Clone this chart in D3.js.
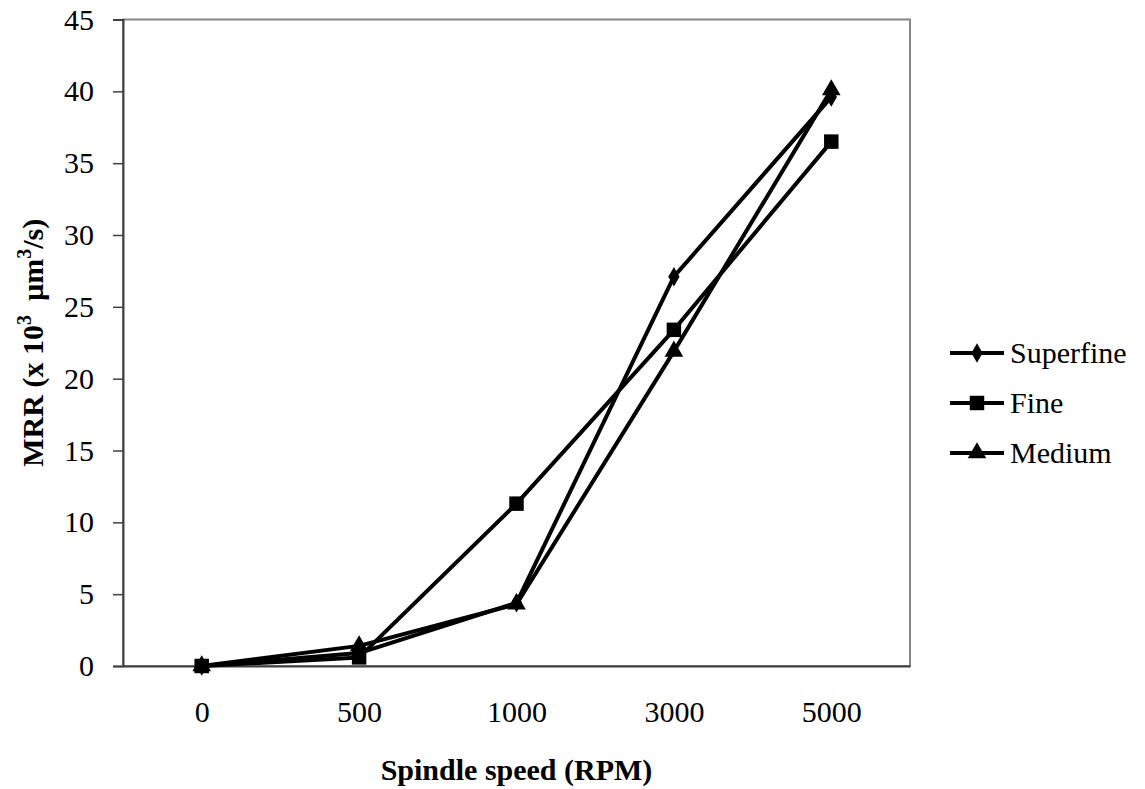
<!DOCTYPE html>
<html>
<head>
<meta charset="utf-8">
<script src="https://cdn.jsdelivr.net/npm/d3@7"></script>
<style>
  body { margin: 0; background: #fff; }
  text { font-family: "Liberation Serif", "Times New Roman", serif; fill: #000; }
</style>
</head>
<body>
<svg width="1145" height="789"></svg>
<script>
let speeds = ['0', '500', '1000', '3000', '5000'];
let superfine = [0, 0.9, 4.4, 27.1, 39.6];
let fine = [0, 0.6, 11.3, 23.4, 36.5];
let medium = [0, 1.4, 4.3, 21.9, 40.1];
let yTicks = [0, 5, 10, 15, 20, 25, 30, 35, 40, 45];

let series = [
  { name: 'Superfine', values: superfine, symbol: d3.symbolDiamond, size: 110 },
  { name: 'Fine', values: fine, symbol: d3.symbolSquare, size: 210 },
  { name: 'Medium', values: medium, symbol: d3.symbolTriangle, size: 150 }
];

let plotLeft = 123, plotRight = 910, plotTop = 19.5, plotBottom = 666;

let xScale = d3.scalePoint()
               .domain(speeds)
               .range([plotLeft, plotRight])
               .padding(0.5);

let yScale = d3.scaleLinear()
               .domain([0, 45])
               .range([plotBottom, plotTop]);

let svg = d3.select('svg');

// plot frame
svg.append('rect')
    .attr('x', plotLeft)
    .attr('y', plotTop)
    .attr('width', plotRight - plotLeft)
    .attr('height', plotBottom - plotTop)
    .attr('fill', 'none')
    .attr('stroke', '#868686')
    .attr('stroke-width', 2);

let yAxis = svg.append('g')
    .attr('transform', `translate(${plotLeft},0)`)
    .call(d3.axisLeft(yScale).tickValues(yTicks).tickSize(10).tickPadding(19));
yAxis.select('.domain').attr('stroke', '#404040').attr('stroke-width', 2);
yAxis.selectAll('line').attr('stroke', '#404040').attr('stroke-width', 1.5);
yAxis.selectAll('text').style('font-size', '30px').style('font-family', '"Liberation Serif", serif');

let xAxis = svg.append('g')
    .attr('transform', `translate(0,${plotBottom})`)
    .call(d3.axisBottom(xScale).tickSize(0).tickPadding(0));
xAxis.select('.domain').attr('stroke', '#404040').attr('stroke-width', 2);
xAxis.selectAll('text')
    .attr('y', 56)
    .attr('dy', 0)
    .style('font-size', '30px')
    .style('font-family', '"Liberation Serif", serif');

// axis titles
svg.append('text')
    .attr('x', (plotLeft + plotRight) / 2)
    .attr('y', 780)
    .attr('text-anchor', 'middle')
    .style('font-size', '30px')
    .style('font-weight', 'bold')
    .text('Spindle speed (RPM)');

let yTitle = svg.append('text')
    .attr('transform', `translate(43,${(plotTop + plotBottom) / 2}) rotate(-90)`)
    .attr('text-anchor', 'middle')
    .style('font-size', '30px')
    .style('font-weight', 'bold');
yTitle.append('tspan').text('MRR (x 10');
yTitle.append('tspan').attr('dy', -12).style('font-size', '20px').text('3');
yTitle.append('tspan').attr('dy', 12).attr('dx', 14).text('µm');
yTitle.append('tspan').attr('dy', -12).style('font-size', '20px').text('3');
yTitle.append('tspan').attr('dy', 12).text('/s)');

let line = d3.line()
    .x((d, i) => xScale(speeds[i]))
    .y(d => yScale(d));

series.forEach(s => {
  svg.append('path')
      .attr('d', line(s.values))
      .attr('fill', 'none')
      .attr('stroke', '#000')
      .attr('stroke-width', 4)
      .attr('stroke-linejoin', 'round');
  svg.append('g')
    .selectAll('path')
    .data(s.values)
    .enter()
    .append('path')
      .attr('transform', (d, i) => `translate(${xScale(speeds[i])},${yScale(d)})`)
      .attr('d', d3.symbol().type(s.symbol).size(s.size))
      .attr('fill', '#000');
});

// legend
let legend = svg.append('g')
    .selectAll('g')
    .data(series)
    .enter()
    .append('g')
    .attr('transform', (d, i) => `translate(950,${353 + i * 50})`);

legend.append('line')
    .attr('x1', 0)
    .attr('x2', 54)
    .attr('stroke', '#000')
    .attr('stroke-width', 4);

legend.append('path')
    .attr('transform', 'translate(27,0)')
    .attr('d', d => d3.symbol().type(d.symbol).size(d.size)())
    .attr('fill', '#000');

legend.append('text')
    .attr('x', 60)
    .attr('dy', '0.32em')
    .style('font-size', '30px')
    .text(d => d.name);
</script>
</body>
</html>
